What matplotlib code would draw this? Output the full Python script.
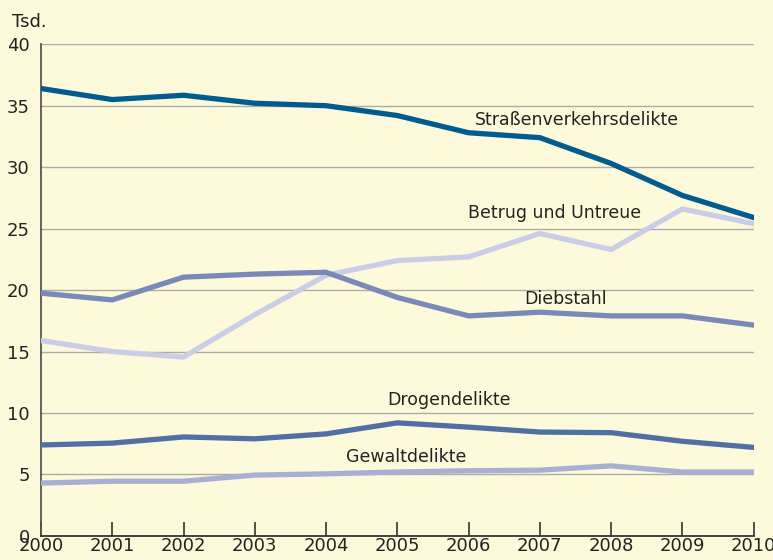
import matplotlib.pyplot as plt

years = list(range(2000, 2011))

strassen = [36.4, 35.5, 35.85, 35.2, 35.0, 34.2, 32.8, 32.4, 30.3, 27.7, 25.9]
betrug = [15.9, 15.0, 14.55, 18.0, 21.2, 22.4, 22.7, 24.6, 23.3, 26.6, 25.4]
diebstahl = [19.75, 19.2, 21.05, 21.3, 21.45, 19.4, 17.9, 18.2, 17.9, 17.9, 17.15]
drogen = [7.4, 7.55, 8.05, 7.9, 8.3, 9.2, 8.85, 8.45, 8.4, 7.7, 7.2]
gewalt = [4.3, 4.45, 4.45, 4.95, 5.05, 5.2, 5.3, 5.35, 5.7, 5.2, 5.2]

bg = "#fdfadb"

fig = plt.figure(figsize=(7.73, 5.6), dpi=100, facecolor=bg)
ax = fig.add_axes([0.053, 0.043, 0.922, 0.878], facecolor=bg)

for y in range(5, 45, 5):
    ax.axhline(y, color="#acaca6", lw=1.0, zorder=1)

series = [
    (gewalt, "#a9afd2"),
    (drogen, "#5070a4"),
    (betrug, "#c9cde5"),
    (diebstahl, "#7a89b8"),
    (strassen, "#005b8e"),
]
for vals, col in series:
    ax.plot(years, vals, color=col, lw=3.8, solid_capstyle="round", zorder=3)

txt = dict(fontsize=12.5, color="#222222", ha="center", va="center")
ax.text(2007.52, 33.8, "Straßenverkehrsdelikte", **txt)
ax.text(2007.2, 26.3, "Betrug und Untreue", **txt)
ax.text(2007.36, 19.3, "Diebstahl", **txt)
ax.text(2005.72, 11.05, "Drogendelikte", **txt)
ax.text(2005.13, 6.4, "Gewaltdelikte", **txt)

ax.set_xlim(2000, 2010)
ax.set_ylim(0, 40)
ax.set_xticks(years)
ax.set_yticks(range(0, 45, 5))
ax.tick_params(axis="x", direction="in", length=10, width=1.2, color="#333333",
               labelsize=13, pad=1)
ax.tick_params(axis="y", length=0, labelsize=13, pad=8)
for lbl in ax.get_xticklabels() + ax.get_yticklabels():
    lbl.set_color("#222222")

for s in ["top", "right"]:
    ax.spines[s].set_visible(False)
ax.spines["left"].set_color("#555555")
ax.spines["left"].set_linewidth(1.3)
ax.spines["bottom"].set_color("#333333")
ax.spines["bottom"].set_linewidth(1.3)

fig.text(0.015, 0.96, "Tsd.", fontsize=13, color="#222222", ha="left", va="center")

fig.savefig("out.png", dpi=100, facecolor=bg)
